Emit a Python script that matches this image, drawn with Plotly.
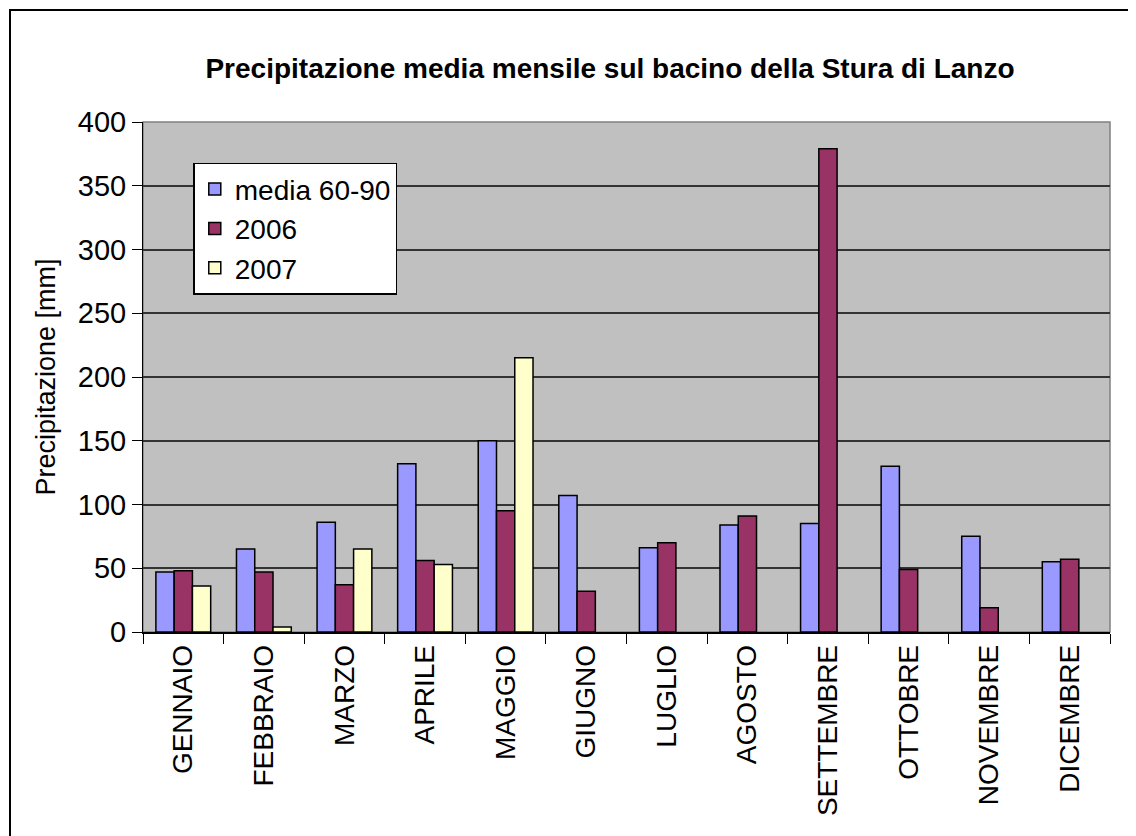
import plotly.graph_objects as go

months = ["GENNAIO", "FEBBRAIO", "MARZO", "APRILE", "MAGGIO", "GIUGNO",
          "LUGLIO", "AGOSTO", "SETTEMBRE", "OTTOBRE", "NOVEMBRE", "DICEMBRE"]
media_60_90 = [47, 65, 86, 132, 150, 107, 66, 84, 85, 130, 75, 55]
anno_2006 = [48, 47, 37, 56, 95, 32, 70, 91, 379, 49, 19, 57]
anno_2007 = [36, 4, 65, 53, 215, None, None, None, None, None, None, None]

FONT = "Liberation Sans, Arial, sans-serif"

fig = go.Figure()
for name, vals, col in [("media 60-90", media_60_90, "#9999FF"),
                        ("2006", anno_2006, "#993366"),
                        ("2007", anno_2007, "#FFFFCC")]:
    fig.add_trace(go.Bar(x=months, y=vals, name=name,
                         marker=dict(color=col, line=dict(color="black", width=1.5))))

# page body adds an 8px offset, margins are set so the plot area lands where the reference has it
fig.update_layout(
    width=1136, height=836,
    margin=dict(l=135, r=34, t=114, b=212),
    paper_bgcolor="white",
    plot_bgcolor="#C0C0C0",
    font=dict(family=FONT, color="black", size=28),
    barmode="group", bargap=0.32, bargroupgap=0,
    title=dict(text="<b>Precipitazione media mensile sul bacino della Stura di Lanzo</b>",
               x=602 / 1136, xanchor="center", y=1 - 60 / 836, yanchor="middle",
               font=dict(size=28, family=FONT)),
    legend=dict(x=0.052, y=0.92, xanchor="left", yanchor="top",
                bgcolor="white", bordercolor="black", borderwidth=1.5,
                font=dict(size=28), tracegroupgap=0),
    showlegend=True,
)

fig.update_xaxes(type="category", tickangle=-90, tickson="boundaries",
                 ticks="outside", ticklen=10, tickcolor="black", tickwidth=1,
                 showline=True, linecolor="black", linewidth=1.5,
                 showgrid=False, tickfont=dict(size=28))
fig.update_yaxes(range=[0, 400], dtick=50, ticks="outside", ticklen=10,
                 tickcolor="black", showline=True, linecolor="black", linewidth=1,
                 gridcolor="#333333", gridwidth=1.5, zeroline=False,
                 tickfont=dict(size=29),
                 title=dict(text="Precipitazione [mm]", font=dict(size=27), standoff=14))

# grey frame around plot area
fig.add_shape(type="rect", xref="paper", yref="paper", x0=0, x1=1, y0=0, y1=1,
              line=dict(color="#808080", width=1.5), layer="below")
# outer chart border (left/top edges kept inside the figure)
fig.add_shape(type="rect", xref="paper", yref="paper",
              x0=(10 - 143) / 967, x1=(1150 - 143) / 967,
              y0=(631.5 - 850) / 509.5, y1=(631.5 - 10) / 509.5,
              line=dict(color="black", width=2))

fig.write_html("out.html")
